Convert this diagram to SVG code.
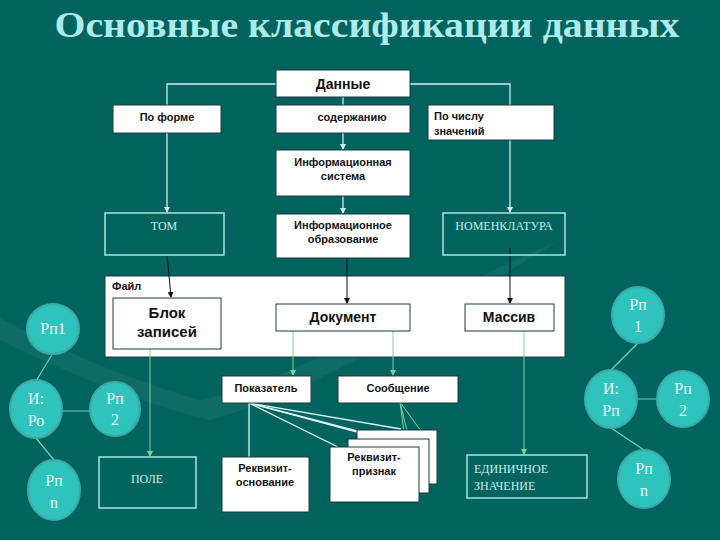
<svg xmlns="http://www.w3.org/2000/svg" width="720" height="540" viewBox="0 0 720 540">
<defs>
<marker id="aw" markerWidth="6" markerHeight="6" refX="5" refY="3" orient="auto" markerUnits="userSpaceOnUse"><path d="M0,0 L6,3 L0,6 z" fill="#cfeeee"/></marker>
<marker id="ak" markerWidth="6" markerHeight="6" refX="5" refY="3" orient="auto" markerUnits="userSpaceOnUse"><path d="M0,0 L6,3 L0,6 z" fill="#111"/></marker>
<marker id="ag" markerWidth="6" markerHeight="6" refX="5" refY="3" orient="auto" markerUnits="userSpaceOnUse"><path d="M0,0 L6,3 L0,6 z" fill="#7dd39a"/></marker>
<style>
.b{fill:#fff;stroke:#1d3b3b;stroke-width:1}
.o{fill:none;stroke:#a8e6df;stroke-width:1.5}
.t{font-family:"Liberation Sans",Arial,sans-serif;font-weight:bold;fill:#111;font-size:11px}
.t14{font-size:14px}
.t15{font-size:15px}
.s{font-family:"Liberation Serif","Times New Roman",serif;fill:#c9efea;font-size:12px}
.c{fill:#2ec3bd;stroke:#3fa9a4;stroke-width:2}
.ct{font-family:"Liberation Serif","Times New Roman",serif;fill:#e6fbf8;font-size:16px;text-anchor:middle}
.lw{stroke:#cfeeee;stroke-width:1.3;fill:none}
.lk{stroke:#111;stroke-width:1;fill:none}
.lg{stroke:#7dd39a;stroke-width:1;fill:none}
.lc{stroke:#5fd3c8;stroke-width:1.2;fill:none}
.lp{stroke:#dff5f5;stroke-width:1.3;fill:none}
</style>
</defs>
<rect width="720" height="540" fill="#02635f"/>
<path d="M0,318 C60,350 130,380 200,400 C300,380 420,300 560,240 C430,320 320,390 210,420 C130,400 60,370 0,340 z" fill="#4a8f88" opacity="0.18"/>
<text x="367" y="37" text-anchor="middle" font-family="Liberation Serif,'Times New Roman',serif" font-weight="bold" font-size="36" fill="#aeecec" textLength="625" lengthAdjust="spacingAndGlyphs">Основные классификации данных</text>

<g id="n-fail"><rect x="105" y="276" width="460" height="81" fill="#fff" stroke="#1d3b3b"/><text class="t" x="112" y="290">Файл</text></g>

<g id="connectors">
<path class="lw" d="M276,84 H167 V105"/>
<path class="lw" d="M410,84 H510 V105"/>
<path class="lw" d="M343,97 V105"/>
<path class="lw" d="M343,133 V149" marker-end="url(#aw)"/>
<path class="lw" d="M167,133 V212" marker-end="url(#aw)"/>
<path class="lw" d="M343,196 V213" marker-end="url(#aw)"/>
<path class="lw" d="M510,140 V212" marker-end="url(#aw)"/>
<path class="lk" d="M167,255 L171,297" marker-end="url(#ak)"/>
<path class="lk" d="M347,250 V303" marker-end="url(#ak)"/>
<path class="lk" d="M510,248 V303" marker-end="url(#ak)"/>
<path class="lg" d="M150,349 V456" marker-end="url(#ag)"/>
<path class="lg" d="M293,331 V375" marker-end="url(#ag)"/>
<path class="lg" d="M393,331 V375" marker-end="url(#ag)"/>
<path class="lg" d="M524,331 V454" marker-end="url(#ag)"/>
<path class="lp" d="M249,403 V457"/>
<path class="lp" d="M249,403 L338,447"/>
<path class="lp" d="M249,403 L357,431"/>
<path class="lp" d="M249,403 L383,439"/>
<path class="lp" d="M249,403 L401,429"/>
<path class="lg" d="M400,402 L406,447 M400,402 L409,439 M400,402 L421,431"/>
<path class="lc" d="M53,353 L36,381 M62,411 H90 M36,438 L54,460"/>
<path class="lc" d="M638,343 L611,370 M637,399 H657 M611,428 L644,450"/>
</g>

<g id="n-dannye"><rect class="b" x="276" y="70" width="134" height="27"/><text class="t t14" x="343" y="89" text-anchor="middle">Данные</text></g>
<g id="n-forma"><rect class="b" x="113" y="105" width="108" height="28"/><text class="t" x="167" y="121" text-anchor="middle">По форме</text></g>
<g id="n-soderzh"><rect class="b" x="276" y="105" width="134" height="28"/><text class="t" x="352" y="121" text-anchor="middle">содержанию</text></g>
<g id="n-chislo"><rect class="b" x="428" y="105" width="126" height="35"/><text class="t" x="434" y="120">По числу</text><text class="t" x="434" y="135">значений</text></g>
<g id="n-is"><rect class="b" x="276" y="150" width="134" height="46"/><text class="t" x="343" y="166" text-anchor="middle">Информационная</text><text class="t" x="343" y="180" text-anchor="middle">система</text></g>
<g id="n-tom"><rect class="o" x="105" y="213" width="119" height="42"/><text class="s" x="164" y="230" text-anchor="middle">ТОМ</text></g>
<g id="n-io"><rect class="b" x="276" y="214" width="134" height="44"/><text class="t" x="343" y="229" text-anchor="middle">Информационное</text><text class="t" x="343" y="243" text-anchor="middle">образование</text></g>
<g id="n-nomen"><rect class="o" x="443" y="213" width="122" height="42"/><text class="s" x="504" y="230" text-anchor="middle">НОМЕНКЛАТУРА</text></g>
<g id="n-blok"><rect class="b" x="113" y="298" width="108" height="51"/><text class="t t15" x="167" y="318" text-anchor="middle">Блок</text><text class="t t15" x="167" y="337" text-anchor="middle">записей</text></g>
<g id="n-dok"><rect class="b" x="276" y="304" width="134" height="27"/><text class="t t14" x="343" y="322" text-anchor="middle">Документ</text></g>
<g id="n-massiv"><rect class="b" x="465" y="304" width="89" height="27"/><text class="t t14" x="509" y="322" text-anchor="middle">Массив</text></g>
<g id="n-pokaz"><rect class="b" x="222" y="376" width="89" height="27"/><text class="t" x="266" y="392" text-anchor="middle">Показатель</text></g>
<g id="n-soob"><rect class="b" x="338" y="376" width="120" height="27"/><text class="t" x="398" y="392" text-anchor="middle">Сообщение</text></g>
<g id="n-osn"><rect class="b" x="222" y="457" width="87" height="55"/><text class="t" x="265" y="472" text-anchor="middle">Реквизит-</text><text class="t" x="265" y="486" text-anchor="middle">основание</text></g>
<g id="n-priznak"><rect class="b" x="357" y="430" width="80" height="54"/><rect class="b" x="348" y="439" width="81" height="54"/><rect class="b" x="330" y="447" width="89" height="55"/><text class="t" x="374" y="461" text-anchor="middle">Реквизит-</text><text class="t" x="374" y="475" text-anchor="middle">признак</text></g>
<g id="n-pole"><rect class="o" x="99" y="457" width="97" height="51"/><text class="s" x="147" y="483" text-anchor="middle">ПОЛЕ</text></g>
<g id="n-edin"><rect class="o" x="467" y="455" width="120" height="43"/><text class="s" x="474" y="473">ЕДИНИЧНОЕ</text><text class="s" x="474" y="490">ЗНАЧЕНИЕ</text></g>

<g id="c-l-rp1"><ellipse class="c" cx="53" cy="329" rx="26" ry="25"/><text class="ct" x="53" y="334">Рп1</text></g>
<g id="c-l-ro"><ellipse class="c" cx="36" cy="409" rx="26" ry="29"/><text class="ct" x="36" y="404">И:</text><text class="ct" x="36" y="426">Ро</text></g>
<g id="c-l-rp2"><ellipse class="c" cx="115" cy="409" rx="25" ry="27"/><text class="ct" x="115" y="404">Рп</text><text class="ct" x="115" y="425">2</text></g>
<g id="c-l-rpn"><ellipse class="c" cx="54" cy="490" rx="26" ry="30"/><text class="ct" x="54" y="486">Рп</text><text class="ct" x="54" y="508">n</text></g>
<g id="c-r-rp1"><ellipse class="c" cx="638" cy="315" rx="26" ry="28"/><text class="ct" x="638" y="310">Рп</text><text class="ct" x="638" y="332">1</text></g>
<g id="c-r-rp"><ellipse class="c" cx="611" cy="399" rx="26" ry="29"/><text class="ct" x="611" y="394">И:</text><text class="ct" x="611" y="416">Рп</text></g>
<g id="c-r-rp2"><ellipse class="c" cx="683" cy="399" rx="26" ry="28"/><text class="ct" x="683" y="394">Рп</text><text class="ct" x="683" y="416">2</text></g>
<g id="c-r-rpn"><ellipse class="c" cx="644" cy="479" rx="26" ry="29"/><text class="ct" x="644" y="474">Рп</text><text class="ct" x="644" y="496">n</text></g>
</svg>
